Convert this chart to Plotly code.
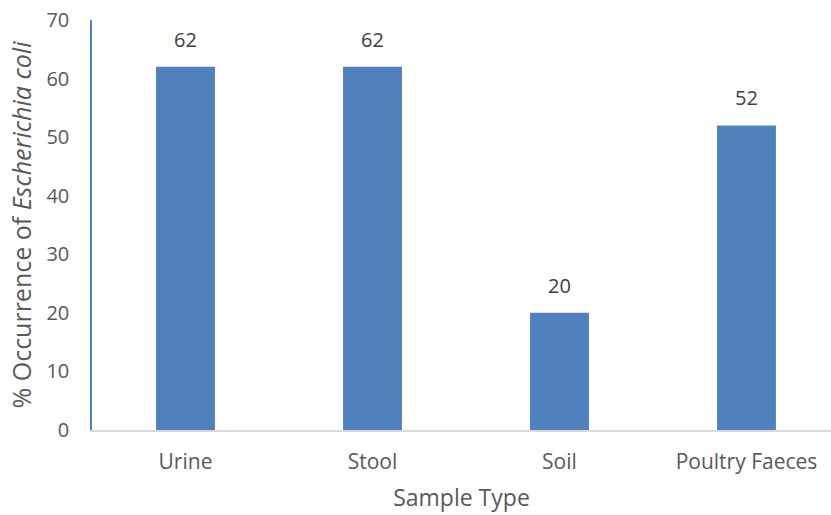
import plotly.graph_objects as go

categories = ["Urine", "Stool", "Soil", "Poultry Faeces"]
values = [62, 62, 20, 52]
y_ticks = [0, 10, 20, 30, 40, 50, 60, 70]

fig = go.Figure(go.Bar(
    x=categories, y=values,
    marker=dict(color="#4F81BD", line=dict(width=0)),
    hoverinfo="x+y",
))

for c, v in zip(categories, values):
    fig.add_annotation(
        x=c, y=v, text=str(v), showarrow=False,
        yanchor="bottom", yshift=12,
        font=dict(family="Open Sans", size=20, color="#404040"),
    )

fig.update_layout(
    width=831, height=515,
    margin=dict(l=92, r=0, t=20, b=85),
    paper_bgcolor="white", plot_bgcolor="white",
    font=dict(family="Open Sans", color="#595959", size=20),
    bargap=0.685,
    showlegend=False,
    xaxis=dict(
        automargin=False, range=[-0.5, 3.452],
        showline=True, linecolor="#D9D9D9", linewidth=1.5,
        ticks="", ticklabelstandoff=12, tickfont=dict(size=21, color="#595959"),
        title=dict(text="Sample Type", font=dict(size=23, color="#595959"), standoff=16),
    ),
    yaxis=dict(
        automargin=False, ticklabeloverflow="allow",
        range=[0, 70], tickvals=y_ticks, showgrid=False, zeroline=False,
        showline=True, linecolor="#4F81BD", linewidth=1.5,
        ticks="", ticklabelstandoff=17, tickfont=dict(size=20, color="#595959"),
        title=dict(text="% Occurrence of <i>Escherichia coli</i>", font=dict(size=25, color="#595959"), standoff=8),
    ),
)

fig.write_html(
    "out.html",
    config={"displayModeBar": False},
    post_script="document.body.style.margin='0';document.body.style.overflow='hidden';",
)
